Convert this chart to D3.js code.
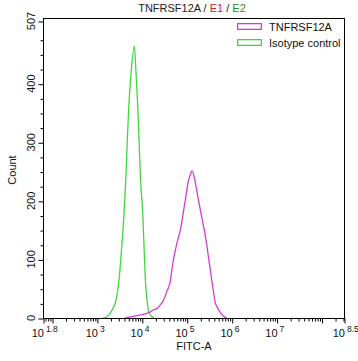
<!DOCTYPE html>
<html><head><meta charset="utf-8">
<script src="https://cdn.jsdelivr.net/npm/d3@7"></script>
<style>
html,body{margin:0;padding:0;background:#fff;}
svg{display:block;font-family:"Liberation Sans",Arial,sans-serif;}
</style></head>
<body><svg id="c" width="358" height="361"></svg>
<script>
// ---- data ----
const seriesNames = ["TNFRSF12A", "Isotype control"];
const magX = [4230, 5750, 7710, 9120, 10810, 12880, 15250, 18070, 21480, 25460, 30150, 35870, 42460, 49550, 59290, 73570, 84120, 96600, 108700, 121700, 131300, 147800, 167200, 191000, 219400, 249400, 279300, 306300, 330700, 366300, 395500, 427200, 473200, 552100, 644200, 778000];
const magY = [0, 2, 4, 5, 6, 8, 10, 14, 16, 22, 30, 45, 61, 96, 125, 154, 181, 210, 234, 246, 251, 239, 217, 193, 169, 147, 125, 102, 85, 60, 44, 27, 19, 10, 4, 0];
const greenX = [1370, 1660, 2200, 2670, 3110, 3570, 4020, 4390, 4750, 5120, 5750, 6810, 7430, 8110, 8670, 9350, 10470, 11190, 11970, 13060, 13960, 16630, 18710];
const greenY = [0, 2, 14, 31, 65, 122, 179, 236, 304, 361, 418, 464, 418, 361, 304, 236, 179, 122, 65, 31, 14, 2, 0];
const xTickExps = ["1.8", "3", "4", "5", "6", "7", "8.5"];
const yTickVals = [0, 100, 200, 300, 400, 507];
const xDomainExp = [1.8, 8.5];
const yMax = 507;

// ---- layout ----
const L = 43, R = 344, T = 18, B = 318, YTOP = 21;
const magenta = "#d23cd2", green = "#3ed83e";
const svg = d3.select("#c");

const x = d3.scaleLog().domain([Math.pow(10, xDomainExp[0]), Math.pow(10, xDomainExp[1])]).range([L, R]);
const y = d3.scaleLinear().domain([0, yMax]).range([B, YTOP]);

// frame
svg.append("rect").attr("x", L + 0.5).attr("y", T + 0.5).attr("width", R - L).attr("height", B - T)
  .attr("fill", "none").attr("stroke", "#000").attr("stroke-width", 1);

// x ticks
const majors = [];
for (let e = 2; e <= 8; e++) majors.push(Math.pow(10, e));
majors.push(x.domain()[0], x.domain()[1]);
const minors = [];
for (let e = 1; e <= 8; e++) for (let m = 2; m <= 9; m++) {
  const v = m * Math.pow(10, e);
  if (v > x.domain()[0] && v < x.domain()[1]) minors.push(v);
}
const gx = svg.append("g").attr("transform", `translate(0.5,${B + 0.5})`);
gx.call(d3.axisBottom(x).tickValues(majors).tickSize(5).tickFormat(""))
  .call(g => g.select(".domain").remove());
const gx2 = svg.append("g").attr("transform", `translate(0.5,${B + 0.5})`);
gx2.call(d3.axisBottom(x).tickValues(minors).tickSize(3).tickFormat(""))
  .call(g => g.select(".domain").remove());

// x tick labels
xTickExps.forEach(ex => {
  const px = x(Math.pow(10, +ex));
  svg.append("text").attr("x", px + 1).attr("y", 337).attr("text-anchor", "end")
    .attr("font-size", 11).attr("fill", "#111").text("10");
  svg.append("text").attr("x", px + 3).attr("y", 332).attr("font-size", 8.5).attr("fill", "#111").text(ex);
});

// y ticks
const yMinors = d3.range(25, 507, 25).filter(v => v % 100 !== 0);
const gy = svg.append("g").attr("transform", `translate(${L + 0.5},0.5)`);
gy.call(d3.axisLeft(y).tickValues(yTickVals).tickSize(5).tickFormat(""))
  .call(g => g.select(".domain").remove());
const gy2 = svg.append("g").attr("transform", `translate(${L + 0.5},0.5)`);
gy2.call(d3.axisLeft(y).tickValues(yMinors).tickSize(3).tickFormat(""))
  .call(g => g.select(".domain").remove());
yTickVals.forEach(v => {
  svg.append("text").attr("transform", `translate(34.5,${y(v)}) rotate(-90)`)
    .attr("text-anchor", "middle").attr("font-size", 11).attr("fill", "#111").text(v);
});

// axis titles
svg.append("text").attr("transform", "translate(15.5,170) rotate(-90)").attr("text-anchor", "middle")
  .attr("font-size", 11).attr("fill", "#111").text("Count");
svg.append("text").attr("x", 194).attr("y", 350).attr("text-anchor", "middle")
  .attr("font-size", 11).attr("fill", "#111").text("FITC-A");

// title
const title = svg.append("text").attr("x", 192).attr("y", 12).attr("text-anchor", "middle").attr("font-size", 11);
title.append("tspan").attr("fill", "#222").text("TNFRSF12A / ");
title.append("tspan").attr("fill", "#e02020").text("E1");
title.append("tspan").attr("fill", "#222").text(" / ");
title.append("tspan").attr("fill", "#1f8f1f").text("E2");

// curves
const line = d3.line().x(d => x(d[0])).y(d => y(d[1])).curve(d3.curveMonotoneX);
svg.append("clipPath").attr("id", "pc").append("rect")
  .attr("x", L).attr("y", T).attr("width", R - L).attr("height", B - T + 0.5);
svg.append("path").datum(greenX.map((v, i) => [v, greenY[i]])).attr("d", line)
  .attr("fill", "none").attr("stroke", green).attr("stroke-width", 1.3).attr("clip-path", "url(#pc)");
svg.append("path").datum(magX.map((v, i) => [v, magY[i]])).attr("d", line)
  .attr("fill", "none").attr("stroke", magenta).attr("stroke-width", 1.3).attr("clip-path", "url(#pc)");

// legend
const legendColors = [magenta, green];
const lg = svg.append("g");
seriesNames.forEach((n, i) => {
  const yy = 23 + i * 16;
  lg.append("rect").attr("x", 237).attr("y", yy).attr("width", 25).attr("height", 7)
    .attr("fill", legendColors[i]);
  lg.append("rect").attr("x", 238.3).attr("y", yy + 1.3).attr("width", 22.4).attr("height", 4.4)
    .attr("fill", "#fff");
  lg.append("text").attr("x", 269).attr("y", yy + 8).attr("font-size", 11).attr("fill", "#111").text(n);
});
</script></body></html>
